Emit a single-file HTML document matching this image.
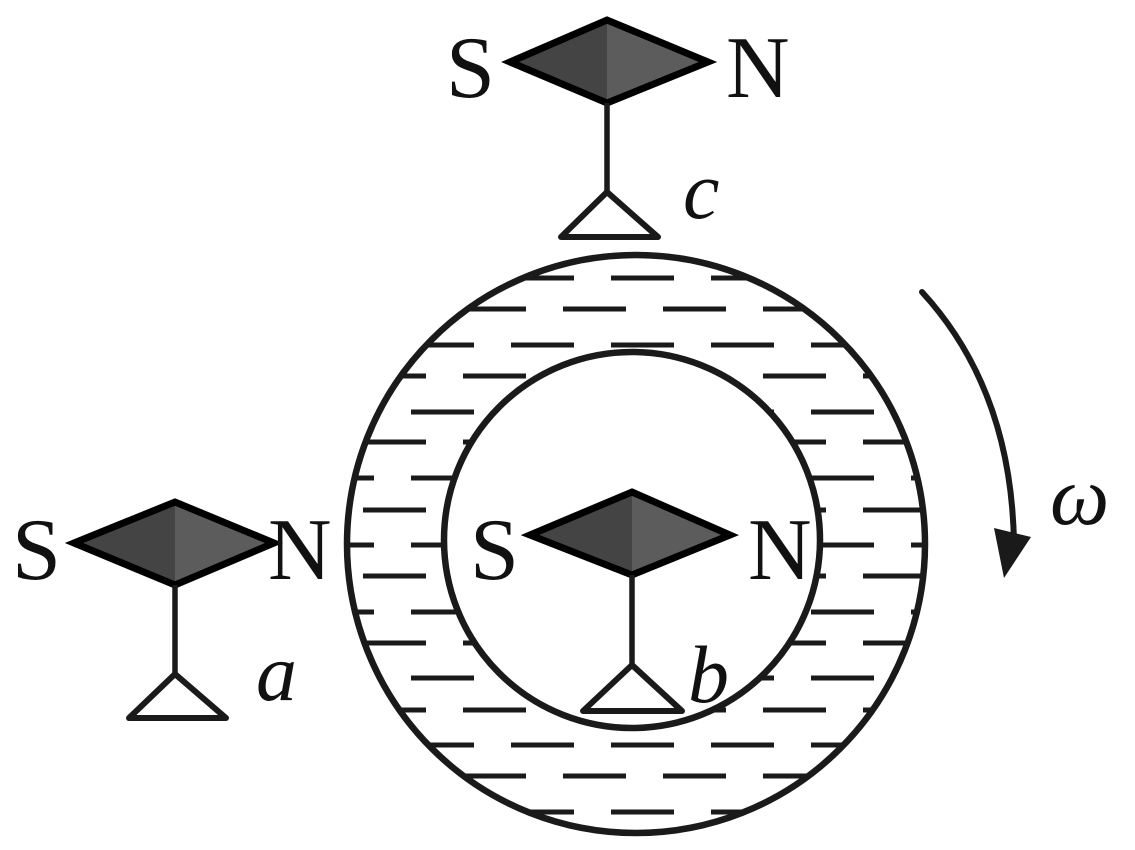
<!DOCTYPE html>
<html><head><meta charset="utf-8"><style>
html,body{margin:0;padding:0;background:#fff;}
svg{display:block;}
</style></head><body>
<svg width="1135" height="850" viewBox="0 0 1135 850" xmlns="http://www.w3.org/2000/svg">
<defs>
<mask id="ring">
<rect width="1135" height="850" fill="#000"/>
<circle cx="636" cy="544" r="289" fill="#fff"/>
<circle cx="632" cy="540" r="188" fill="#000"/>
</mask>
</defs>
<g mask="url(#ring)" stroke="#1a1a1a" stroke-width="5">
<g stroke-dasharray="63 37">
<line x1="311" x2="960" y1="278" y2="278"/>
<line x1="311" x2="960" y1="345" y2="345"/>
<line x1="311" x2="960" y1="412" y2="412"/>
<line x1="311" x2="960" y1="478" y2="478"/>
<line x1="311" x2="960" y1="545" y2="545"/>
<line x1="311" x2="960" y1="612" y2="612"/>
<line x1="311" x2="960" y1="678" y2="678"/>
<line x1="311" x2="960" y1="745" y2="745"/>
<line x1="311" x2="960" y1="812" y2="812"/>
</g>
<g stroke-dasharray="63 37">
<line x1="263" x2="960" y1="309" y2="309"/>
<line x1="263" x2="960" y1="376" y2="376"/>
<line x1="263" x2="960" y1="442" y2="442"/>
<line x1="263" x2="960" y1="510" y2="510"/>
<line x1="263" x2="960" y1="576" y2="576"/>
<line x1="263" x2="960" y1="643" y2="643"/>
<line x1="263" x2="960" y1="710" y2="710"/>
<line x1="263" x2="960" y1="776" y2="776"/>
</g>
</g>
<circle cx="636" cy="544" r="289" fill="none" stroke="#1a1a1a" stroke-width="6.5"/>
<circle cx="632" cy="540" r="188" fill="none" stroke="#1a1a1a" stroke-width="6.5"/>

<g font-family="'Liberation Serif', 'Times New Roman', Times, serif" fill="#111">
<!-- compass c -->
<polygon points="510,62 607,20 607,103" fill="#444"/>
<polygon points="607,20 708,62 607,103" fill="#5c5c5c"/>
<polygon points="510,62 607,20 708,62 607,103" fill="none" stroke="#000" stroke-width="7"/>
<line x1="607" y1="103" x2="607" y2="192" stroke="#1a1a1a" stroke-width="5.5"/>
<polygon points="607,192 561,237 658,237" fill="none" stroke="#1a1a1a" stroke-width="6" stroke-linejoin="round"/>
<text x="446" y="97" font-size="88" font-family="'Liberation Serif', serif">S</text>
<text x="726" y="97" font-size="88" font-family="'Liberation Serif', serif">N</text>
<text x="683" y="218" font-size="82" font-style="italic" font-family="'Liberation Serif', serif">c</text>

<!-- compass a -->
<polygon points="74,543 175,502 175,585" fill="#444"/>
<polygon points="175,502 274,543 175,585" fill="#5c5c5c"/>
<polygon points="74,543 175,502 274,543 175,585" fill="none" stroke="#000" stroke-width="7"/>
<line x1="175" y1="585" x2="175" y2="674" stroke="#1a1a1a" stroke-width="5.5"/>
<polygon points="175,674 129,718 226,718" fill="none" stroke="#1a1a1a" stroke-width="6" stroke-linejoin="round"/>
<text x="12" y="579" font-size="88" font-family="'Liberation Serif', serif">S</text>
<text x="268" y="579" font-size="88" font-family="'Liberation Serif', serif">N</text>
<text x="256" y="700" font-size="82" font-style="italic" font-family="'Liberation Serif', serif">a</text>

<!-- compass b -->
<polygon points="530,535 632,492 632,575" fill="#444"/>
<polygon points="632,492 730,535 632,575" fill="#5c5c5c"/>
<polygon points="530,535 632,492 730,535 632,575" fill="none" stroke="#000" stroke-width="7"/>
<line x1="632" y1="575" x2="632" y2="665" stroke="#1a1a1a" stroke-width="5.5"/>
<polygon points="632,665 583,711 682,711" fill="none" stroke="#1a1a1a" stroke-width="6" stroke-linejoin="round"/>
<text x="470" y="579" font-size="88" font-family="'Liberation Serif', serif">S</text>
<text x="748" y="579" font-size="88" font-family="'Liberation Serif', serif">N</text>
<text x="688" y="702" font-size="82" font-style="italic" font-family="'Liberation Serif', serif">b</text>

<!-- arrow -->
<path d="M922,292 Q1012,390 1014,545" fill="none" stroke="#1a1a1a" stroke-width="6" stroke-linecap="round"/>
<polygon points="994,528 1031,537 1004,578" fill="#1a1a1a"/>
<text x="1050" y="524" font-size="84" font-style="italic" font-family="'Liberation Serif', serif">ω</text>
</g>
</svg>
</body></html>
